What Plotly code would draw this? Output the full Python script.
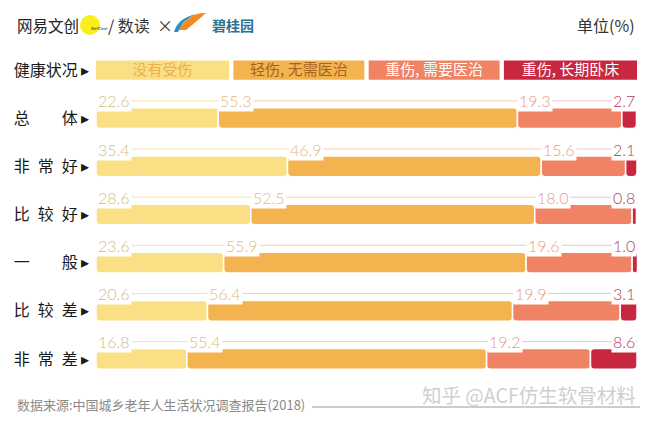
import plotly.graph_objects as go

# 健康状况 -> 受伤情况 (%)
rows = ["总　　体", "非\u2002常\u2002好", "比\u2002较\u2002好", "一　　般", "比\u2002较\u2002差", "非\u2002常\u2002差"]
cats = ["没有受伤", "轻伤, 无需医治", "重伤, 需要医治", "重伤, 长期卧床"]
no_injury = [22.6, 35.4, 28.6, 23.6, 20.6, 16.8]
light = [55.3, 46.9, 52.5, 55.9, 56.4, 55.4]
severe = [19.3, 15.6, 18.0, 19.6, 19.9, 19.2]
bedridden = [2.7, 2.1, 0.8, 1.0, 3.1, 8.6]
series = [no_injury, light, severe, bedridden]

bar_colors = ["#fbdf85", "#f3b44f", "#f08364", "#c8283f"]
label_colors = ["#d3bb82", "#e6b878", "#ec9a84", "#b23b5c"]
line_colors = ["#f7e2a6", "#f6cdb0", "#e9c3d3", "#e9c3d3"]
legend_text = ["#f1ae48", "#a8621c", "#ffffff", "#ffffff"]

FONT = "Noto Sans CJK SC"
NUM_FONT = "Lato"

# plot area on screen (page body adds an 8px offset)
SX0, SX1, SY0, SY1 = 96, 637, 46, 383
OFF = 8
L, T = SX0 - OFF, SY0 - OFF
R, B = 655 - (SX1 - OFF), 422 - (SY1 - OFF)


def px(x):
    return (x - SX0) / (SX1 - SX0)


def py(y):
    return (SY1 - y) / (SY1 - SY0)


fig = go.Figure()
ys = list(range(1, len(rows) + 1))
label_dy = 0.36

starts = []
acc = [0.0] * len(rows)
for vals in series:
    starts.append(acc[:])
    acc = [a + v for a, v in zip(acc, vals)]

for k, vals in enumerate(series):
    fig.add_trace(go.Bar(
        orientation="h", y=ys, x=vals, base=starts[k],
        width=0.43,
        marker=dict(color=bar_colors[k], cornerradius=4,
                    line=dict(width=1.5, color="white")),
        name=cats[k], showlegend=False, hoverinfo="skip",
    ))

# thin guide lines above each segment
for k, vals in enumerate(series):
    lx, ly = [], []
    for r, y in enumerate(ys):
        lx += [starts[k][r], starts[k][r] + vals[r], None]
        ly += [y - label_dy, y - label_dy, None]
    fig.add_trace(go.Scatter(x=lx, y=ly, mode="lines",
                             line=dict(color=line_colors[k], width=1),
                             showlegend=False, hoverinfo="skip"))

annotations = []
for k, vals in enumerate(series):
    for r, y in enumerate(ys):
        last = k == len(series) - 1
        annotations.append(dict(
            x=100 if last else starts[k][r], y=y - label_dy,
            xref="x", yref="y",
            text=f"{vals[r]:.1f}", showarrow=False,
            xanchor="right" if last else "left", yanchor="middle",
            bgcolor="white", borderpad=1,
            font=dict(family=NUM_FONT, size=16, color=label_colors[k], weight=300),
        ))

# legend row
shapes = []
gap = 0.004
for k, c in enumerate(cats):
    shapes.append(dict(
        type="rect", xref="paper", yref="y",
        x0=k / 4 + (gap if k else 0), x1=(k + 1) / 4 - (gap if k < 3 else 0),
        y0=-0.2, y1=0.2,
        fillcolor=bar_colors[k], line=dict(width=0), layer="below",
        label=dict(text=c, font=dict(family=FONT, size=15, color=legend_text[k]),
                   textposition="middle center"),
    ))

# header / footer
annotations += [
    dict(x=px(15), y=py(25), xref="paper", yref="paper", text="网易文创", showarrow=False,
         xanchor="left", yanchor="middle",
         font=dict(family=FONT, size=15.5, color="#222")),
    dict(x=px(637), y=py(25), xref="paper", yref="paper", text="单位(%)", showarrow=False,
         xanchor="right", yanchor="middle",
         font=dict(family=FONT, size=16, color="#333")),
    dict(x=px(90), y=py(25), xref="paper", yref="paper", text="NetEase",
         showarrow=False, borderpad=0,
         font=dict(family="DejaVu Sans", size=4, color="#333")),
    dict(x=px(106), y=py(25), xref="paper", yref="paper", text="/ 数读  ×",
         showarrow=False, xanchor="left", yanchor="middle",
         font=dict(family=FONT, size=16, color="#333")),
    dict(x=px(210), y=py(25), xref="paper", yref="paper", text="<b>碧桂园</b>",
         showarrow=False, xanchor="left", yanchor="middle",
         font=dict(family=FONT, size=14, color="#2c6f93")),
    dict(x=px(15), y=py(404), xref="paper", yref="paper",
         text="数据来源:中国城乡老年人生活状况调查报告(2018)", showarrow=False,
         xanchor="left", yanchor="middle",
         font=dict(family=FONT, size=13, color="#8a8a8a")),
    dict(x=px(638), y=py(395), xref="paper", yref="paper",
         text="知乎 @ACF仿生软骨材料", showarrow=False,
         xanchor="right", yanchor="middle",
         font=dict(family=FONT, size=19.5, color="#cfcfcf")),
]
shapes += [
    dict(type="circle", xref="paper", yref="paper",
         x0=px(80), x1=px(100), y0=py(35), y1=py(15),
         fillcolor="#f9ef1a", line=dict(width=0), layer="below"),
    dict(type="path", xref="paper", yref="paper",
         path=f"M {px(178)},{py(30)} Q {px(190)},{py(12)} {px(206)},{py(13)} "
              f"Q {px(196)},{py(22)} {px(186)},{py(30)} Z",
         fillcolor="#f28a1c", line=dict(width=0)),
    dict(type="path", xref="paper", yref="paper",
         path=f"M {px(174)},{py(32)} Q {px(178)},{py(18)} {px(196)},{py(14)} "
              f"Q {px(182)},{py(20)} {px(178)},{py(32)} Z",
         fillcolor="#2b8fc4", line=dict(width=0)),
    dict(type="line", xref="paper", yref="paper",
         x0=px(312), x1=px(640), y0=py(407), y1=py(407),
         line=dict(color="#9a9a9a", width=1)),
]

fig.update_layout(
    width=655, height=422,
    margin=dict(l=L, r=R, t=T, b=B, autoexpand=False),
    paper_bgcolor="white", plot_bgcolor="white",
    barmode="overlay",
    shapes=shapes, annotations=annotations,
    xaxis=dict(range=[0, 100], visible=False, fixedrange=True, automargin=False),
    yaxis=dict(range=[6.5, -0.5], tickvals=[0] + ys,
               ticktext=[t + "\u2009▸" for t in ["健康状况"] + rows],
               showgrid=False, zeroline=False, showline=False,
               ticks="", ticklabelstandoff=6, automargin=False,
               tickfont=dict(family=FONT, size=16, color="#1a1a1a")),
    showlegend=False,
)

fig.write_html("out.html")
